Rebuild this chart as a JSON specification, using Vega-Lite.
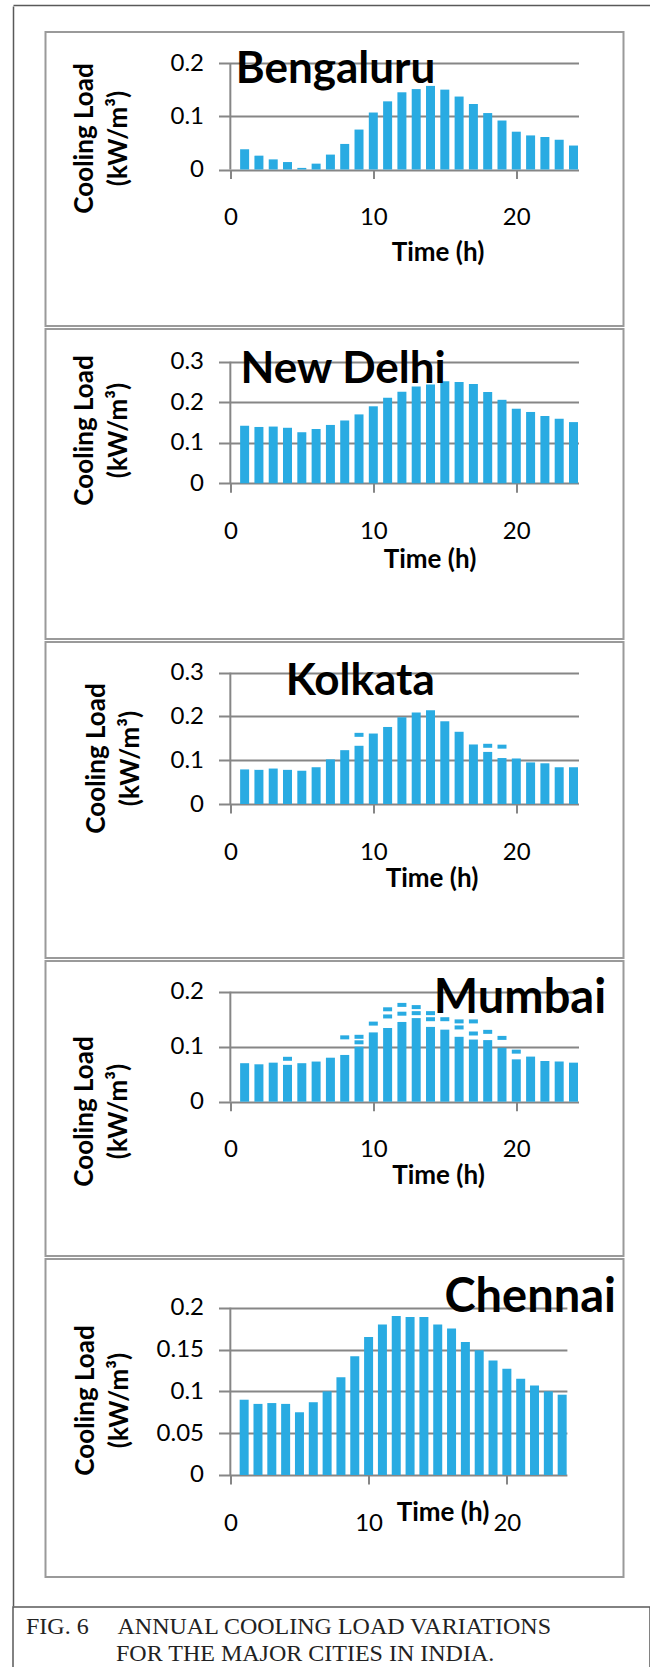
{
  "$schema": "https://vega.github.io/schema/vega-lite/v6.json",
  "padding": {"left": 12, "top": 5, "right": 0, "bottom": 0},
  "background": "white",
  "spacing": 0,
  "datasets": {
    "bars": [
      {"city":"Bengaluru","hour":1,"load":0.038},{"city":"Bengaluru","hour":2,"load":0.026},{"city":"Bengaluru","hour":3,"load":0.019},{"city":"Bengaluru","hour":4,"load":0.014},{"city":"Bengaluru","hour":5,"load":0.003},{"city":"Bengaluru","hour":6,"load":0.011},{"city":"Bengaluru","hour":7,"load":0.028},{"city":"Bengaluru","hour":8,"load":0.048},{"city":"Bengaluru","hour":9,"load":0.075},{"city":"Bengaluru","hour":10,"load":0.107},{"city":"Bengaluru","hour":11,"load":0.128},{"city":"Bengaluru","hour":12,"load":0.145},{"city":"Bengaluru","hour":13,"load":0.151},{"city":"Bengaluru","hour":14,"load":0.157},{"city":"Bengaluru","hour":15,"load":0.150},{"city":"Bengaluru","hour":16,"load":0.137},{"city":"Bengaluru","hour":17,"load":0.123},{"city":"Bengaluru","hour":18,"load":0.106},{"city":"Bengaluru","hour":19,"load":0.092},{"city":"Bengaluru","hour":20,"load":0.071},{"city":"Bengaluru","hour":21,"load":0.064},{"city":"Bengaluru","hour":22,"load":0.061},{"city":"Bengaluru","hour":23,"load":0.056},{"city":"Bengaluru","hour":24,"load":0.045},
      {"city":"New Delhi","hour":1,"load":0.142},{"city":"New Delhi","hour":2,"load":0.139},{"city":"New Delhi","hour":3,"load":0.140},{"city":"New Delhi","hour":4,"load":0.137},{"city":"New Delhi","hour":5,"load":0.126},{"city":"New Delhi","hour":6,"load":0.134},{"city":"New Delhi","hour":7,"load":0.144},{"city":"New Delhi","hour":8,"load":0.155},{"city":"New Delhi","hour":9,"load":0.170},{"city":"New Delhi","hour":10,"load":0.190},{"city":"New Delhi","hour":11,"load":0.211},{"city":"New Delhi","hour":12,"load":0.226},{"city":"New Delhi","hour":13,"load":0.239},{"city":"New Delhi","hour":14,"load":0.244},{"city":"New Delhi","hour":15,"load":0.252},{"city":"New Delhi","hour":16,"load":0.250},{"city":"New Delhi","hour":17,"load":0.245},{"city":"New Delhi","hour":18,"load":0.225},{"city":"New Delhi","hour":19,"load":0.206},{"city":"New Delhi","hour":20,"load":0.184},{"city":"New Delhi","hour":21,"load":0.176},{"city":"New Delhi","hour":22,"load":0.166},{"city":"New Delhi","hour":23,"load":0.159},{"city":"New Delhi","hour":24,"load":0.151},
      {"city":"Kolkata","hour":1,"load":0.079},{"city":"Kolkata","hour":2,"load":0.078},{"city":"Kolkata","hour":3,"load":0.081},{"city":"Kolkata","hour":4,"load":0.078},{"city":"Kolkata","hour":5,"load":0.076},{"city":"Kolkata","hour":6,"load":0.084},{"city":"Kolkata","hour":7,"load":0.102},{"city":"Kolkata","hour":8,"load":0.123},{"city":"Kolkata","hour":9,"load":0.133},{"city":"Kolkata","hour":10,"load":0.161},{"city":"Kolkata","hour":11,"load":0.176},{"city":"Kolkata","hour":12,"load":0.198},{"city":"Kolkata","hour":13,"load":0.209},{"city":"Kolkata","hour":14,"load":0.214},{"city":"Kolkata","hour":15,"load":0.189},{"city":"Kolkata","hour":16,"load":0.165},{"city":"Kolkata","hour":17,"load":0.136},{"city":"Kolkata","hour":18,"load":0.119},{"city":"Kolkata","hour":19,"load":0.105},{"city":"Kolkata","hour":20,"load":0.104},{"city":"Kolkata","hour":21,"load":0.095},{"city":"Kolkata","hour":22,"load":0.093},{"city":"Kolkata","hour":23,"load":0.084},{"city":"Kolkata","hour":24,"load":0.084},
      {"city":"Mumbai","hour":1,"load":0.070},{"city":"Mumbai","hour":2,"load":0.068},{"city":"Mumbai","hour":3,"load":0.071},{"city":"Mumbai","hour":4,"load":0.067},{"city":"Mumbai","hour":5,"load":0.070},{"city":"Mumbai","hour":6,"load":0.073},{"city":"Mumbai","hour":7,"load":0.080},{"city":"Mumbai","hour":8,"load":0.085},{"city":"Mumbai","hour":9,"load":0.100},{"city":"Mumbai","hour":10,"load":0.126},{"city":"Mumbai","hour":11,"load":0.134},{"city":"Mumbai","hour":12,"load":0.145},{"city":"Mumbai","hour":13,"load":0.152},{"city":"Mumbai","hour":14,"load":0.136},{"city":"Mumbai","hour":15,"load":0.131},{"city":"Mumbai","hour":16,"load":0.118},{"city":"Mumbai","hour":17,"load":0.113},{"city":"Mumbai","hour":18,"load":0.112},{"city":"Mumbai","hour":19,"load":0.098},{"city":"Mumbai","hour":20,"load":0.077},{"city":"Mumbai","hour":21,"load":0.082},{"city":"Mumbai","hour":22,"load":0.074},{"city":"Mumbai","hour":23,"load":0.073},{"city":"Mumbai","hour":24,"load":0.071},
      {"city":"Chennai","hour":1,"load":0.090},{"city":"Chennai","hour":2,"load":0.085},{"city":"Chennai","hour":3,"load":0.086},{"city":"Chennai","hour":4,"load":0.085},{"city":"Chennai","hour":5,"load":0.075},{"city":"Chennai","hour":6,"load":0.087},{"city":"Chennai","hour":7,"load":0.100},{"city":"Chennai","hour":8,"load":0.117},{"city":"Chennai","hour":9,"load":0.142},{"city":"Chennai","hour":10,"load":0.165},{"city":"Chennai","hour":11,"load":0.180},{"city":"Chennai","hour":12,"load":0.190},{"city":"Chennai","hour":13,"load":0.189},{"city":"Chennai","hour":14,"load":0.189},{"city":"Chennai","hour":15,"load":0.180},{"city":"Chennai","hour":16,"load":0.175},{"city":"Chennai","hour":17,"load":0.159},{"city":"Chennai","hour":18,"load":0.149},{"city":"Chennai","hour":19,"load":0.137},{"city":"Chennai","hour":20,"load":0.127},{"city":"Chennai","hour":21,"load":0.115},{"city":"Chennai","hour":22,"load":0.107},{"city":"Chennai","hour":23,"load":0.100},{"city":"Chennai","hour":24,"load":0.096}
    ],
    "dashes": [
      {"city":"Kolkata","hour":9,"load":0.158},{"city":"Kolkata","hour":18,"load":0.133},{"city":"Kolkata","hour":19,"load":0.131},
      {"city":"Mumbai","hour":4,"load":0.078},{"city":"Mumbai","hour":8,"load":0.117},{"city":"Mumbai","hour":9,"load":0.108},{"city":"Mumbai","hour":9,"load":0.118},{"city":"Mumbai","hour":10,"load":0.142},{"city":"Mumbai","hour":11,"load":0.155},{"city":"Mumbai","hour":11,"load":0.168},{"city":"Mumbai","hour":12,"load":0.160},{"city":"Mumbai","hour":12,"load":0.176},{"city":"Mumbai","hour":13,"load":0.161},{"city":"Mumbai","hour":13,"load":0.172},{"city":"Mumbai","hour":14,"load":0.150},{"city":"Mumbai","hour":14,"load":0.161},{"city":"Mumbai","hour":15,"load":0.150},{"city":"Mumbai","hour":16,"load":0.135},{"city":"Mumbai","hour":16,"load":0.146},{"city":"Mumbai","hour":17,"load":0.124},{"city":"Mumbai","hour":17,"load":0.146},{"city":"Mumbai","hour":18,"load":0.127},{"city":"Mumbai","hour":19,"load":0.116},{"city":"Mumbai","hour":20,"load":0.091}
    ]
  },
  "vconcat": [
    {
      "width": 637, "height": 1,
      "data": {"values": []},
      "mark": {"type": "point", "opacity": 0},
      "encoding": {"x": {"field": "v", "type": "quantitative", "scale": {"domain": [0, 1]}, "axis": {"orient": "top", "domain": true, "domainColor": "#595959", "domainWidth": 1.5, "ticks": false, "labels": false, "title": null, "grid": false}}},
      "view": {"stroke": null}
    },
    {
      "spacing": 26.5,
      "hconcat": [
        {
          "width": 5, "height": 1600,
          "data": {"values": []},
          "mark": {"type": "point", "opacity": 0},
          "encoding": {"y": {"field": "v", "type": "quantitative", "scale": {"domain": [0, 1]}, "axis": {"domain": true, "domainColor": "#595959", "domainWidth": 1.5, "ticks": false, "labels": false, "title": null, "grid": false}}},
          "view": {"stroke": null}
        },
        {
          "spacing": 1,
          "vconcat": [
            {"width": 578, "height": 24, "data": {"values": []}, "mark": "point", "view": {"stroke": null}},
            {
              "width": 578, "height": 294,
              "view": {"stroke": "#9a9a9a", "strokeWidth": 2},
              "layer": [
                {
                  "data": {"name": "bars"}, "transform": [{"filter": "datum.city === 'Bengaluru'"}],
                  "mark": {"type": "bar", "width": 9, "color": "#29ABE2"},
                  "encoding": {
                    "x": {"field": "hour", "type": "quantitative", "scale": {"domain": [-12.577, 27.148], "nice": false, "zero": false},
                      "axis": {"values": [0, 10, 20], "offset": -156.5, "tickSize": 9, "labelPadding": 46, "labelBaseline": "alphabetic", "labelFlush": false, "title": "Time (h)", "titleX": 392, "titleY": 90.5, "titleAlign": "center", "titleBaseline": "alphabetic", "titleAngle": 0}},
                    "y": {"field": "load", "type": "quantitative", "scale": {"domain": [-0.2939, 0.25822], "nice": false, "zero": false},
                      "axis": {"values": [0, 0.1, 0.2], "format": ".1~f", "offset": -533, "tickSize": 360, "labelPadding": 15, "labelBaseline": "middle", "title": ["Cooling Load", "(kW/m³)"], "titleX": -494, "titleY": 106, "titleAngle": 270, "titleAlign": "center", "titleBaseline": "middle", "titleLineHeight": 34}},
                    "y2": {"datum": 0}
                  }
                },
                {"data": {"values": [{}]}, "mark": {"type": "rule", "color": "#868686", "strokeWidth": 2}, "encoding": {"x": {"datum": 0}, "y": {"datum": 0}, "y2": {"datum": 0.2}}},
                {"data": {"values": [{"name": "Bengaluru"}]}, "mark": {"type": "text", "font": "Lato", "fontSize": 44, "fontWeight": "bold", "align": "left", "baseline": "alphabetic", "color": "#000000"}, "encoding": {"text": {"field": "name"}, "x": {"datum": 0.38}, "y": {"datum": 0.1624}}}
              ]
            },
            {
              "width": 578, "height": 310,
              "view": {"stroke": "#9a9a9a", "strokeWidth": 2},
              "layer": [
                {
                  "data": {"name": "bars"}, "transform": [{"filter": "datum.city === 'New Delhi'"}],
                  "mark": {"type": "bar", "width": 9, "color": "#29ABE2"},
                  "encoding": {
                    "x": {"field": "hour", "type": "quantitative", "scale": {"domain": [-12.577, 27.148], "nice": false, "zero": false},
                      "axis": {"values": [0, 10, 20], "offset": -155.7, "tickSize": 9, "labelPadding": 46, "labelBaseline": "alphabetic", "labelFlush": false, "title": "Time (h)", "titleX": 384, "titleY": 83.7, "titleAlign": "center", "titleBaseline": "alphabetic", "titleAngle": 0}},
                    "y": {"field": "load", "type": "quantitative", "scale": {"domain": [-0.38416, 0.38071], "nice": false, "zero": false},
                      "axis": {"values": [0, 0.1, 0.2, 0.3], "format": ".1~f", "offset": -533, "tickSize": 360, "labelPadding": 15, "labelBaseline": "middle", "title": ["Cooling Load", "(kW/m³)"], "titleX": -494, "titleY": 101, "titleAngle": 270, "titleAlign": "center", "titleBaseline": "middle", "titleLineHeight": 34}},
                    "y2": {"datum": 0}
                  }
                },
                {"data": {"values": [{}]}, "mark": {"type": "rule", "color": "#868686", "strokeWidth": 2}, "encoding": {"x": {"datum": 0}, "y": {"datum": 0}, "y2": {"datum": 0.3}}},
                {"data": {"values": [{"name": "New Delhi"}]}, "mark": {"type": "text", "font": "Lato", "fontSize": 44, "fontWeight": "bold", "align": "left", "baseline": "alphabetic", "color": "#000000"}, "encoding": {"text": {"field": "name"}, "x": {"datum": 0.72}, "y": {"datum": 0.2482}}}
              ]
            },
            {
              "width": 578, "height": 316,
              "view": {"stroke": "#9a9a9a", "strokeWidth": 2},
              "layer": [
                {
                  "data": {"name": "bars"}, "transform": [{"filter": "datum.city === 'Kolkata'"}],
                  "mark": {"type": "bar", "width": 9, "color": "#29ABE2"},
                  "encoding": {
                    "x": {"field": "hour", "type": "quantitative", "scale": {"domain": [-12.577, 27.148], "nice": false, "zero": false},
                      "axis": {"values": [0, 10, 20], "offset": -154, "tickSize": 9, "labelPadding": 46, "labelBaseline": "alphabetic", "labelFlush": false, "title": "Time (h)", "titleX": 386, "titleY": 82, "titleAlign": "center", "titleBaseline": "alphabetic", "titleAngle": 0}},
                    "y": {"field": "load", "type": "quantitative", "scale": {"domain": [-0.35184, 0.37012], "nice": false, "zero": false},
                      "axis": {"values": [0, 0.1, 0.2, 0.3], "format": ".1~f", "offset": -533, "tickSize": 360, "labelPadding": 15, "labelBaseline": "middle", "title": ["Cooling Load", "(kW/m³)"], "titleX": -482, "titleY": 116, "titleAngle": 270, "titleAlign": "center", "titleBaseline": "middle", "titleLineHeight": 34}},
                    "y2": {"datum": 0}
                  }
                },
                {"data": {"name": "dashes"}, "transform": [{"filter": "datum.city === 'Kolkata'"}], "mark": {"type": "tick", "orient": "horizontal", "size": 9, "thickness": 4, "color": "#29ABE2", "opacity": 1}, "encoding": {"x": {"field": "hour", "type": "quantitative"}, "y": {"field": "load", "type": "quantitative"}}},
                {"data": {"values": [{}]}, "mark": {"type": "rule", "color": "#868686", "strokeWidth": 2}, "encoding": {"x": {"datum": 0}, "y": {"datum": 0}, "y2": {"datum": 0.3}}},
                {"data": {"values": [{"name": "Kolkata"}]}, "mark": {"type": "text", "font": "Lato", "fontSize": 44, "fontWeight": "bold", "align": "left", "baseline": "alphabetic", "color": "#000000"}, "encoding": {"text": {"field": "name"}, "x": {"datum": 3.88}, "y": {"datum": 0.249}}}
              ]
            },
            {
              "width": 578, "height": 295,
              "view": {"stroke": "#9a9a9a", "strokeWidth": 2},
              "layer": [
                {
                  "data": {"name": "bars"}, "transform": [{"filter": "datum.city === 'Mumbai'"}],
                  "mark": {"type": "bar", "width": 9, "color": "#29ABE2"},
                  "encoding": {
                    "x": {"field": "hour", "type": "quantitative", "scale": {"domain": [-12.577, 27.148], "nice": false, "zero": false},
                      "axis": {"values": [0, 10, 20], "offset": -154.3, "tickSize": 9, "labelPadding": 46, "labelBaseline": "alphabetic", "labelFlush": false, "title": "Time (h)", "titleX": 392.5, "titleY": 81.3, "titleAlign": "center", "titleBaseline": "alphabetic", "titleAngle": 0}},
                    "y": {"field": "load", "type": "quantitative", "scale": {"domain": [-0.28055, 0.25582], "nice": false, "zero": false},
                      "axis": {"values": [0, 0.1, 0.2], "format": ".1~f", "offset": -533, "tickSize": 360, "labelPadding": 15, "labelBaseline": "middle", "title": ["Cooling Load", "(kW/m³)"], "titleX": -494, "titleY": 150, "titleAngle": 270, "titleAlign": "center", "titleBaseline": "middle", "titleLineHeight": 34}},
                    "y2": {"datum": 0}
                  }
                },
                {"data": {"name": "dashes"}, "transform": [{"filter": "datum.city === 'Mumbai'"}], "mark": {"type": "tick", "orient": "horizontal", "size": 9, "thickness": 4, "color": "#29ABE2", "opacity": 1}, "encoding": {"x": {"field": "hour", "type": "quantitative"}, "y": {"field": "load", "type": "quantitative"}}},
                {"data": {"values": [{}]}, "mark": {"type": "rule", "color": "#868686", "strokeWidth": 2}, "encoding": {"x": {"datum": 0}, "y": {"datum": 0}, "y2": {"datum": 0.2}}},
                {"data": {"values": [{"name": "Mumbai"}]}, "mark": {"type": "text", "font": "Lato", "fontSize": 47, "fontWeight": "bold", "align": "left", "baseline": "alphabetic", "color": "#000000"}, "encoding": {"text": {"field": "name"}, "x": {"datum": 14.23}, "y": {"datum": 0.1613}}}
              ]
            },
            {
              "width": 578, "height": 318,
              "view": {"stroke": "#9a9a9a", "strokeWidth": 2},
              "layer": [
                {
                  "data": {"name": "bars"}, "transform": [{"filter": "datum.city === 'Chennai'"}],
                  "mark": {"type": "bar", "width": 9, "color": "#29ABE2"},
                  "encoding": {
                    "x": {"field": "hour", "type": "quantitative", "scale": {"domain": [-13.006, 28.074], "nice": false, "zero": false},
                      "axis": {"values": [0, 10, 20], "offset": -102, "tickSize": 9, "labelPadding": 46, "labelBaseline": "alphabetic", "labelFlush": false, "title": "Time (h)", "titleX": 397, "titleY": 45, "titleAlign": "center", "titleBaseline": "alphabetic", "titleAngle": 0}},
                    "y": {"field": "load", "type": "quantitative", "scale": {"domain": [-0.12194, 0.25822], "nice": false, "zero": false},
                      "axis": {"values": [0, 0.05, 0.1, 0.15, 0.2], "format": ".2~f", "offset": -521.4, "tickSize": 348.4, "labelPadding": 15, "labelBaseline": "middle", "title": ["Cooling Load", "(kW/m³)"], "titleX": -481, "titleY": 141, "titleAngle": 270, "titleAlign": "center", "titleBaseline": "middle", "titleLineHeight": 34}},
                    "y2": {"datum": 0}
                  }
                },
                {"data": {"values": [{}]}, "mark": {"type": "rule", "color": "#868686", "strokeWidth": 2}, "encoding": {"x": {"datum": 0}, "y": {"datum": 0}, "y2": {"datum": 0.2}}},
                {"data": {"values": [{"name": "Chennai"}]}, "mark": {"type": "text", "font": "Lato", "fontSize": 47, "fontWeight": "bold", "align": "left", "baseline": "alphabetic", "color": "#000000"}, "encoding": {"text": {"field": "name"}, "x": {"datum": 15.49}, "y": {"datum": 0.1949}}}
              ]
            }
          ]
        },
        {
          "width": 1, "height": 1600,
          "data": {"values": []},
          "mark": {"type": "point", "opacity": 0},
          "encoding": {"y": {"field": "v", "type": "quantitative", "scale": {"domain": [0, 1]}, "axis": {"domain": true, "domainColor": "#595959", "domainWidth": 1.5, "ticks": false, "labels": false, "title": null, "grid": false}}},
          "view": {"stroke": null}
        }
      ]
    },
    {
      "width": 637, "height": 61,
      "data": {"values": []},
      "mark": {"type": "point", "opacity": 0},
      "encoding": {
        "x": {"field": "v", "type": "quantitative", "scale": {"domain": [0, 1]},
          "axis": {"orient": "top", "domain": false, "ticks": false, "labels": false, "grid": false,
            "title": "FIG. 6\u00a0\u00a0\u00a0\u00a0\u2009ANNUAL COOLING LOAD VARIATIONS",
            "titleX": 12.5, "titleY": 26.5, "titleAlign": "left", "titleAnchor": "start", "titleBaseline": "alphabetic", "titleAngle": 0,
            "titleFont": "Liberation Serif", "titleFontSize": 24, "titleFontWeight": "normal", "titleColor": "#222222"}},
        "y": {"field": "w", "type": "quantitative", "scale": {"domain": [0, 1]},
          "axis": {"orient": "left", "domain": false, "ticks": false, "labels": false, "grid": false, "minExtent": 0,
            "title": "FOR THE MAJOR CITIES IN INDIA.",
            "titleX": 102.5, "titleY": 53, "titleAlign": "left", "titleAnchor": "start", "titleBaseline": "alphabetic", "titleAngle": 0,
            "titleFont": "Liberation Serif", "titleFontSize": 24, "titleFontWeight": "normal", "titleColor": "#222222"}}
      },
      "view": {"stroke": "#595959", "strokeWidth": 1.5}
    }
  ],
  "config": {
    "view": {"stroke": null},
    "axis": {
      "labelFont": "Lato", "labelFontSize": 24, "labelColor": "#000000",
      "tickColor": "#868686", "tickWidth": 2, "domain": false, "grid": false,
      "titleFont": "Lato", "titleFontWeight": "bold", "titleFontSize": 26, "titleColor": "#000000"
    }
  }
}
